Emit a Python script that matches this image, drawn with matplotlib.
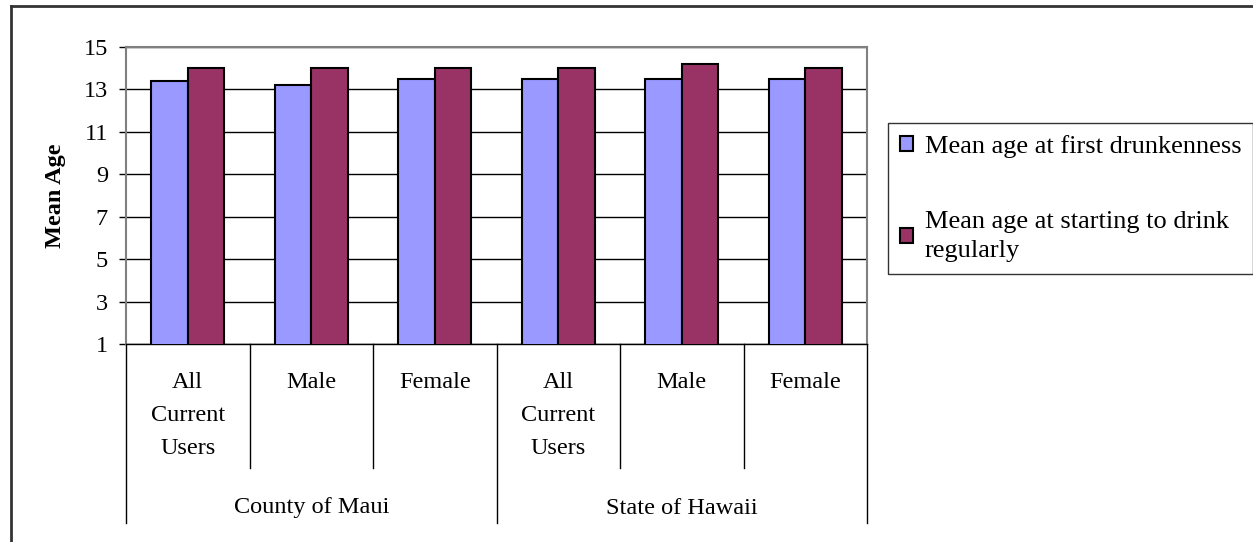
import matplotlib

matplotlib.use("Agg")
import matplotlib.pyplot as plt
from matplotlib.lines import Line2D

# data
groups = ["County of Maui", "State of Hawaii"]
subgroups = ["All\nCurrent\nUsers", "Male", "Female"]
first_drunk = [13.4, 13.2, 13.5, 13.5, 13.5, 13.5]
drink_regular = [14.0, 14.0, 14.0, 14.0, 14.2, 14.0]
series_labels = ["Mean age at first drunkenness",
                 "Mean age at starting to drink\nregularly"]
yticks = [1, 3, 5, 7, 9, 11, 13, 15]

W, H = 1253, 542
plt.rcParams["font.family"] = ["Liberation Serif", "DejaVu Serif"]
fs = 17.5

fig = plt.figure(figsize=(W / 100, H / 100), dpi=100)
left, right, top, bottom = 126, 867, 47, 344
ax = fig.add_axes([left / W, 1 - bottom / H, (right - left) / W, (bottom - top) / H])
axh = bottom - top

n = len(first_drunk)
xs = list(range(n))
bw = 0.295
ax.bar([x - bw / 2 for x in xs], first_drunk, bw, bottom=0, color="#9999FF",
       edgecolor="black", linewidth=1.5, zorder=3, label=series_labels[0])
ax.bar([x + bw / 2 for x in xs], drink_regular, bw, bottom=0, color="#993366",
       edgecolor="black", linewidth=1.5, zorder=3, label=series_labels[1])

ax.set_xlim(-0.5, n - 0.5)
ax.set_ylim(1, 15)
ax.set_yticks(yticks)
ax.set_yticklabels([str(t) for t in yticks], fontsize=fs)
ax.tick_params(axis="y", length=5, width=1, pad=8, color="black")
ax.set_xticks([])
ax.yaxis.grid(True, color="black", linewidth=1, zorder=0)
for s in ["top", "right"]:
    ax.spines[s].set_color("#808080")
    ax.spines[s].set_linewidth(1.5)
ax.spines["left"].set_color("#808080")
ax.spines["left"].set_linewidth(1.5)
ax.spines["bottom"].set_color("black")
ax.spines["bottom"].set_linewidth(1)
ax.set_ylabel("Mean Age", fontsize=fs, fontweight="bold", labelpad=13)

# hierarchical category axis
tr = ax.get_xaxis_transform()
def below(px):
    return -px / axh

for i in range(n + 1):
    depth = 179 if i % 3 == 0 else 124
    ax.add_line(Line2D([i - 0.5, i - 0.5], [0, below(depth)], transform=tr,
                       color="black", linewidth=1, clip_on=False))
for i, x in enumerate(xs):
    ax.text(x, below(28), subgroups[i % 3], transform=tr, ha="center", va="top",
            fontsize=fs, linespacing=1.75)
for g, name in enumerate(groups):
    ax.text(g * 3 + 1, below(164), name, transform=tr, ha="center", va="center",
            fontsize=fs)

leg = fig.legend(loc="upper left", bbox_to_anchor=(888 / W, 1 - 123 / H),
                 fontsize=19, frameon=True, fancybox=False, edgecolor="black",
                 handlelength=0.5, handleheight=0.5, handletextpad=0.45,
                 labelspacing=2.0, borderpad=0.45, borderaxespad=0)
leg.get_frame().set_linewidth(1)
for t in leg.get_texts():
    t.set_linespacing(1.45)

# outer chart border (top and left edges visible)
fig.add_artist(Line2D([11 / W, 1], [1 - 6 / H, 1 - 6 / H], transform=fig.transFigure,
                      color="#333333", linewidth=2))
fig.add_artist(Line2D([11 / W, 11 / W], [0, 1 - 6 / H], transform=fig.transFigure,
                      color="#333333", linewidth=2))

fig.savefig("out.png", dpi=100)
